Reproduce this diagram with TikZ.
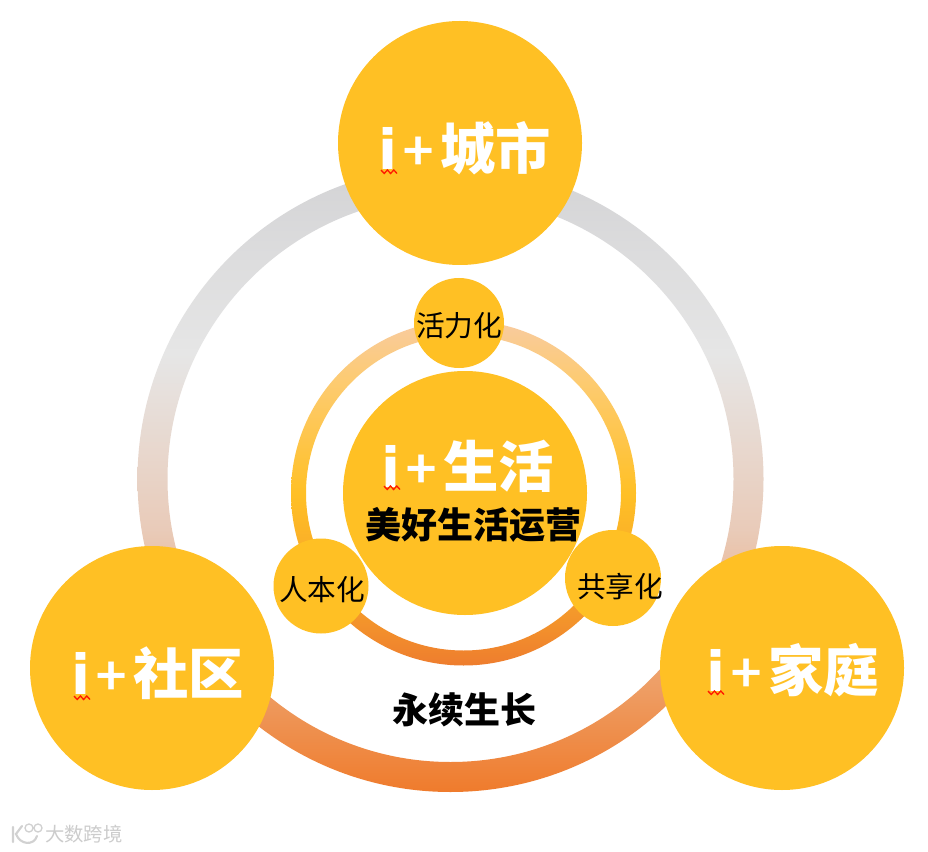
\documentclass[tikz,border=0pt]{standalone}
\usepackage{fontspec}
\setmainfont{Noto Sans CJK SC}
\newfontfamily\latinb{DejaVu Sans}
\newfontfamily\latinp{Lato}
\definecolor{gold}{HTML}{FFC024}
\definecolor{ringD}{HTML}{EF7B2C}
\definecolor{ringC}{HTML}{EE9C62}
\definecolor{ringB}{HTML}{E9CBB9}
\definecolor{ringA}{HTML}{E6E6E6}
\definecolor{ringT}{HTML}{D3D3D5}
\definecolor{sD}{HTML}{EE7D2E}
\definecolor{sC}{HTML}{F6A02A}
\definecolor{sB}{HTML}{FFC026}
\definecolor{sA}{HTML}{FDCB70}
\definecolor{sT}{HTML}{F8CBA0}
\pgfdeclareverticalshading{bigringshade}{100bp}{
  color(0bp)=(ringD); color(25bp)=(ringD); color(33bp)=(ringC); color(46bp)=(ringB);
  color(60bp)=(ringA); color(75bp)=(ringT); color(100bp)=(ringT)}
\pgfdeclareverticalshading{smallringshade}{100bp}{
  color(0bp)=(sD); color(25bp)=(sD); color(35bp)=(sC); color(50bp)=(sB);
  color(66bp)=(sA); color(75bp)=(sT); color(100bp)=(sT)}
\tikzset{
  bigdisc/.style={circle,fill=gold,minimum size=244*0.75pt,inner sep=0pt},
  smalldisc/.style={circle,fill=gold,inner sep=0pt},
  bigtext/.style={text=white,font=\fontsize{41.5}{46}\selectfont\bfseries,inner sep=0pt},
  tagtext/.style={text=black,font=\fontsize{21.5}{24}\selectfont,inner sep=0pt},
  headtext/.style={text=black,font=\fontsize{27}{30}\selectfont\bfseries,inner sep=0pt},
  squiggle/.style={draw=red!80!orange,line width=1pt},
  mark text/.style={text=black!20,font=\fontsize{14.5}{17}\selectfont,inner sep=0pt}
}
\newcommand{\iplus}{{\latinb\bfseries i}\hspace{0.09em}{\latinp\bfseries +}\hspace{0.1em}}
\begin{document}
\begin{tikzpicture}[x=0.75pt,y=-0.75pt]
\useasboundingbox (0,0) rectangle (928,852);
\fill[white] (0,0) rectangle (928,852);
% rings
\path[even odd rule,shading=bigringshade] (450.5,479) circle[radius=313*0.75pt] (450.5,479) circle[radius=283*0.75pt];
\path[even odd rule,shading=smallringshade] (463.5,493) circle[radius=172.5*0.75pt] (463.5,493) circle[radius=157.5*0.75pt];
% discs
\node[bigdisc] (city) at (460,143) {};
\node[bigdisc] (comm) at (152,668) {};
\node[bigdisc] (home) at (782,668) {};
\node[bigdisc] (life) at (465,493) {};
\node[smalldisc,minimum size=90*0.75pt] (vital) at (459,323) {};
\node[smalldisc,minimum size=95*0.75pt] (human) at (321,586) {};
\node[smalldisc,minimum size=96*0.75pt] (share) at (613,578) {};
% labels
\node[bigtext] (t1) at (465,148) {\iplus 城市};
\node[bigtext] (t2) at (158,673) {\iplus 社区};
\node[bigtext] (t3) at (793,670) {\iplus 家庭};
\node[bigtext] (t4) at (468,466) {\iplus 生活};
\node[headtext] (h1) at (473,525) {美好生活运营};
\node[headtext] (h2) at (464,710) {永续生长};
\node[tagtext] (a1) at (459,326) {活力化};
\node[tagtext] (a2) at (322,590) {人本化};
\node[tagtext] (a3) at (620,587) {共享化};
% squiggles
\foreach \x/\y in {381/170, 74/696, 708/691, 384/486}{
  \draw[squiggle] (\x,\y) -- ++(3.2,3.5) -- ++(3.2,-3.5) -- ++(3.2,3.5) -- ++(3.2,-3.5) -- ++(3.2,3.5);
}
% watermark
\draw[black!18,line width=1.6pt,line cap=round] (13,827) -- (13,842) (22,826) -- (16,834) .. controls (20,845) and (34,846) .. (37,836);
\draw[black!18,line width=1pt] (29,828) circle[radius=4*0.75pt] (38,828) circle[radius=4*0.75pt];
\node[mark text,anchor=west] (wm) at (45,834) {大数跨境};
\end{tikzpicture}
\end{document}
